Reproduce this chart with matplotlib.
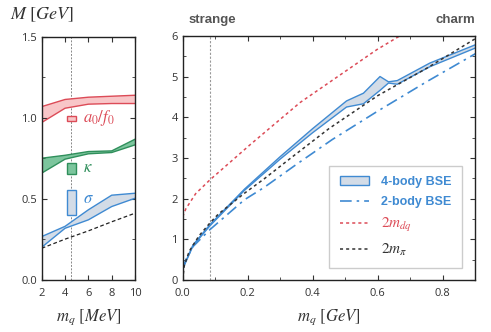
import matplotlib
matplotlib.use("Agg")
import matplotlib.pyplot as plt
from matplotlib.patches import Patch, Rectangle
from matplotlib.lines import Line2D
from matplotlib.ticker import MultipleLocator

plt.rcParams["font.family"] = ["Open Sans", "DejaVu Sans"]
plt.rcParams["mathtext.fontset"] = "stix"

# left panel: light quark region (MeV)
mq_light = [2, 4, 6, 8, 10]
a0_hi = [1.068, 1.112, 1.126, 1.132, 1.138]
a0_lo = [0.970, 1.058, 1.083, 1.087, 1.087]
kappa_hi = [0.750, 0.768, 0.791, 0.795, 0.867]
kappa_lo = [0.658, 0.744, 0.777, 0.785, 0.832]
sigma_hi = [0.267, 0.330, 0.432, 0.522, 0.534]
sigma_lo = [0.201, 0.318, 0.370, 0.452, 0.503]
pion_light = [0.195, 0.251, 0.302, 0.358, 0.411]
mq_phys = 4.55
exp_a0 = (0.982, 1.011)
exp_kappa = (0.653, 0.723)
exp_sigma = (0.401, 0.555)

# right panel: up to charm (GeV)
mq_band = [0.0, 0.016, 0.032, 0.084, 0.19, 0.30, 0.40, 0.504, 0.556, 0.607, 0.633, 0.66, 0.76, 0.90]
band_hi = [0.29, 0.57, 0.86, 1.36, 2.23, 3.03, 3.72, 4.40, 4.59, 5.00, 4.87, 4.90, 5.33, 5.78]
band_lo = [0.27, 0.55, 0.84, 1.33, 2.20, 2.97, 3.62, 4.25, 4.33, 4.66, 4.84, 4.81, 5.24, 5.70]
mq_2b = [0.0, 0.01, 0.032, 0.083, 0.19, 0.25, 0.35, 0.46, 0.60, 0.75, 0.90]
two_body = [0.25, 0.50, 0.82, 1.23, 1.97, 2.27, 2.84, 3.45, 4.15, 4.87, 5.56]
mq_dq = [0.0, 0.01, 0.04, 0.084, 0.207, 0.361, 0.499, 0.597, 0.668, 0.70]
two_mdq = [1.55, 1.75, 2.12, 2.46, 3.32, 4.36, 5.12, 5.66, 6.00, 6.15]
mq_pi = [0.0, 0.005, 0.02, 0.05, 0.084, 0.11, 0.19, 0.25, 0.33, 0.45, 0.60, 0.75, 0.90]
two_mpi = [0.0, 0.35, 0.70, 1.08, 1.40, 1.62, 2.13, 2.48, 2.98, 3.72, 4.53, 5.20, 5.93]
mq_strange = 0.084

red, red_fill = "#dc4b57", "#f8c6c8"
green, green_fill = "#2f8f5b", "#7cc59d"
blue, blue_fill = "#3f8ad2", "#d3dce7"
tick_gray = "#333333"

fig = plt.figure(figsize=(4.91, 3.32), dpi=100)
ax1 = fig.add_axes([0.085, 0.157, 0.190, 0.733])
ax2 = fig.add_axes([0.372, 0.157, 0.596, 0.735])

for ax in (ax1, ax2):
    ax.tick_params(which="both", direction="in", top=True, right=True,
                   labelsize=8, colors=tick_gray, length=3.5)
    ax.tick_params(which="minor", length=2)
    ax.tick_params(axis="x", pad=6)
    for s in ax.spines.values():
        s.set_linewidth(1.0)
        s.set_color("#222222")

# left panel
ax1.fill_between(mq_light, a0_lo, a0_hi, facecolor=red_fill, edgecolor="none")
ax1.plot(mq_light, a0_hi, color=red, lw=1)
ax1.plot(mq_light, a0_lo, color=red, lw=1)
ax1.fill_between(mq_light, kappa_lo, kappa_hi, facecolor=green_fill, edgecolor="none")
ax1.plot(mq_light, kappa_hi, color=green, lw=1)
ax1.plot(mq_light, kappa_lo, color=green, lw=1)
ax1.fill_between(mq_light, sigma_lo, sigma_hi, facecolor=blue_fill, edgecolor="none")
ax1.plot(mq_light, sigma_hi, color=blue, lw=1)
ax1.plot(mq_light, sigma_lo, color=blue, lw=1)
ax1.plot(mq_light, pion_light, color="#222222", lw=0.9, ls=(0, (3, 2)))
ax1.axvline(mq_phys, color="#888888", lw=0.7, ls=(0, (2, 1.5)), zorder=0)

for (lo, hi), ec, fc in [(exp_a0, red, red_fill), (exp_kappa, green, green_fill),
                         (exp_sigma, blue, blue_fill)]:
    ax1.add_patch(Rectangle((mq_phys - 0.4, lo), 0.8, hi - lo,
                            facecolor=fc, edgecolor=ec, lw=1, zorder=3))

ax1.text(5.5, 0.995, r"$a_0/f_0$", color=red, fontsize=12, va="center")
ax1.text(5.5, 0.69, r"$\kappa$", color=green, fontsize=12, va="center")
ax1.text(5.5, 0.50, r"$\sigma$", color=blue, fontsize=12, va="center")

ax1.set_xlim(2, 10)
ax1.set_ylim(0, 1.5)
ax1.xaxis.set_major_locator(MultipleLocator(2))
ax1.yaxis.set_major_locator(MultipleLocator(0.5))
ax1.yaxis.set_minor_locator(MultipleLocator(0.25))
ax1.yaxis.set_major_formatter(matplotlib.ticker.FormatStrFormatter("%.1f"))
ax1.set_xlabel(r"$m_q\ [MeV]$", fontsize=12, color=tick_gray, labelpad=6)
fig.text(0.02, 0.955, r"$M\ [GeV]$", fontsize=13, color=tick_gray, va="center")

# right panel
ax2.fill_between(mq_band, band_lo, band_hi, facecolor=blue_fill, edgecolor="none")
ax2.plot(mq_band, band_hi, color=blue, lw=1)
ax2.plot(mq_band, band_lo, color=blue, lw=1)
ax2.plot(mq_2b, two_body, color=blue, lw=1.2, ls=(0, (7, 3, 1.5, 3)))
ax2.plot(mq_dq, two_mdq, color=red, lw=1.1, ls=(0, (2, 2)))
ax2.plot(mq_pi, two_mpi, color="#333333", lw=1.1, ls=(0, (2, 2)))
ax2.axvline(mq_strange, color="#999999", lw=0.8, ls=(0, (2, 1.5)), zorder=0)

ax2.set_xlim(0, 0.9)
ax2.set_ylim(0, 6)
ax2.xaxis.set_major_locator(MultipleLocator(0.2))
ax2.xaxis.set_minor_locator(MultipleLocator(0.1))
ax2.yaxis.set_major_locator(MultipleLocator(1))
ax2.yaxis.set_minor_locator(MultipleLocator(0.5))
ax2.xaxis.set_major_formatter(matplotlib.ticker.FormatStrFormatter("%.1f"))
ax2.set_xlabel(r"$m_q\ [GeV]$", fontsize=12, color=tick_gray, labelpad=6)

ax2.text(0.091, 6.39, "strange", ha="center", va="center", fontsize=9.5,
         fontweight="bold", color="#555555", family=["Liberation Sans"])
ax2.text(0.9, 6.39, "charm", ha="right", va="center", fontsize=9.5,
         fontweight="bold", color="#555555", family=["Liberation Sans"])

handles = [
    Patch(facecolor=blue_fill, edgecolor=blue, lw=1),
    Line2D([], [], color=blue, lw=1.2, ls=(0, (7, 3, 1.5, 3))),
    Line2D([], [], color=red, lw=1.1, ls=(0, (2, 2))),
    Line2D([], [], color="#333333", lw=1.1, ls=(0, (2, 2))),
]
labels = ["4-body BSE", "2-body BSE", r"$2m_{dq}$", r"$2m_\pi$"]
leg = ax2.legend(handles, labels, loc="lower left", bbox_to_anchor=(0.501, 0.048),
                 fancybox=False, edgecolor="#cccccc", framealpha=1, fontsize=9,
                 handlelength=2.3, labelspacing=0.62, borderpad=0.85,
                 handletextpad=1.0, borderaxespad=0)
leg.get_frame().set_linewidth(1.0)
for t, c in zip(leg.get_texts(), [blue, blue, red, "#333333"]):
    t.set_color(c)
for t in leg.get_texts()[:2]:
    t.set_fontweight("bold")
    t.set_family(["Liberation Sans"])
for t in leg.get_texts()[2:]:
    t.set_fontsize(11)

fig.savefig("out.png", dpi=100)
